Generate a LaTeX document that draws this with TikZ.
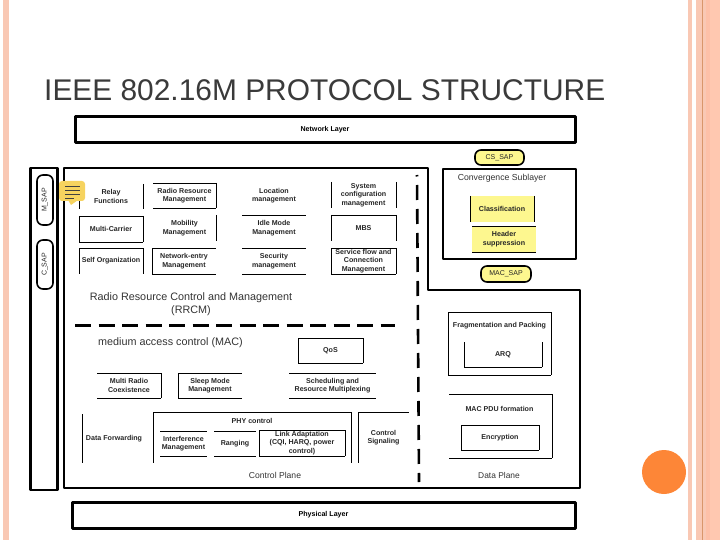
\documentclass[tikz,border=0pt]{standalone}
\usepackage{fontspec}
\setmainfont{Liberation Sans}
\definecolor{stripe}{HTML}{F9C8B4}
\definecolor{stripeb}{HTML}{FDC0A8}
\definecolor{stripec}{HTML}{FFC8B0}
\definecolor{stripel}{HTML}{D9966B}
\definecolor{dot}{HTML}{FD8637}
\definecolor{titlec}{HTML}{3A3A3A}
\definecolor{boxy}{HTML}{FDF78F}
\definecolor{note}{HTML}{F6D35F}
\tikzset{
  blk/.style={inner sep=0pt,outer sep=0pt,align=center,font=\fontsize{7.1}{8.4}\selectfont\bfseries,text=black!85},
  thinl/.style={line width=0.9pt,black},
  heavy/.style={line width=3pt,black,line join=round},
  mid/.style={line width=2.4pt,black,line join=round},
  sap/.style={rounded corners=6pt,line width=1.6pt,draw=black,inner sep=0pt,font=\fontsize{7}{8}\selectfont,text=black!85},
  plain/.style={inner sep=0pt,align=center,text=black!80},
  dashl/.style={line width=3pt,black,dash pattern=on 16pt off 7.5pt},
}
\newcommand\blkname{}
\newcommand\eT{\draw[thinl] (\blkname.north west)--(\blkname.north east);}
\newcommand\eB{\draw[thinl] (\blkname.south west)--(\blkname.south east);}
\newcommand\eL{\draw[thinl] (\blkname.north west)--(\blkname.south west);}
\newcommand\eR{\draw[thinl] (\blkname.north east)--(\blkname.south east);}
% name x1 y1 x2 y2 text edges
\newcommand\blk[7]{%
  \node[blk,minimum width={(#4-#2)*1pt},minimum height={(#5-#3)*1pt}] (#1) at ({(#2+#4)/2},{(#3+#5)/2}) {#6};
  \renewcommand\blkname{#1}#7}
\begin{document}
\begin{tikzpicture}[x=1pt,y=-1pt]
\useasboundingbox (0,0) rectangle (720,540);
% decoration
\fill[stripe] (3,0) rectangle (9,540);
\fill[stripe] (688,0) rectangle (692,540);
\fill[stripe] (696,0) rectangle (709,540);
\fill[stripeb] (706,0) rectangle (710,540);
\fill[stripec] (710,0) rectangle (720,540);
\fill[stripel] (702,0) rectangle (703,540);
\fill[dot] (664,472) circle (22);
% title
\node[anchor=west,inner sep=0pt,text=titlec,font=\fontsize{29.9}{36}\selectfont] (title) at (44,90) {IEEE 802.16M PROTOCOL STRUCTURE};
% layers
\node[draw,heavy,minimum width=500pt,minimum height=26pt,inner sep=0pt,font=\fontsize{7.1}{8}\selectfont\bfseries] (net) at (325,130) {\raisebox{-1pt}{Network Layer}};
\node[draw,heavy,minimum width=503pt,minimum height=26pt,inner sep=0pt,font=\fontsize{7.1}{8}\selectfont\bfseries] (phy) at (323.5,515) {Physical Layer};
% left strip
\node[draw,mid,minimum width=27pt,minimum height=322pt,inner sep=0pt] (strip) at (44,329) {};
\node[sap,minimum width=16pt,minimum height=50pt] (msap) at (45,200) {\rotatebox{90}{M\_SAP}};
\node[sap,minimum width=16pt,minimum height=49pt] (csap) at (45,264.5) {\rotatebox{90}{C\_SAP}};
% outer outline
\draw[mid] (64,168) -- (428,168) -- (428,290) -- (580,290) -- (580,488) -- (64,488) -- cycle;
% convergence
\node[draw,mid,minimum width=133pt,minimum height=90pt,inner sep=0pt] (conv) at (509.5,214) {};
\node[plain,font=\fontsize{8.7}{10}\selectfont] (convt) at (502,178.5) {Convergence Sublayer};
\fill[boxy] (470,196) rectangle (534,222);
\fill[boxy] (472,226) rectangle (536,252);
\blk{clsf}{470}{196}{534}{222}{Classification}{\eL\eR}
\blk{hdr}{472}{226}{536}{252}{Header\\suppression}{\eT\eB}
\node[sap,fill=boxy,minimum width=49pt,minimum height=15pt] (cssap) at (499.5,157.5) {CS\_SAP};
\node[sap,fill=boxy,minimum width=50pt,minimum height=16pt] (macsap) at (506,274) {MAC\_SAP};
% RRCM blocks
\blk{relay}{79}{184}{143}{209}{Relay\\Functions}{\eL\eR}
\blk{rrm}{153}{183}{216}{208}{Radio Resource\\Management}{\eT\eB\eR}
\blk{loc}{242}{183}{306}{208}{Location\\management}{}
\blk{sys}{331}{182}{396}{208}{System\\configuration\\management}{\eL\eR}
\blk{mc}{79}{216}{143}{242}{Multi-Carrier}{\eT\eB\eL\eR}
\blk{mob}{153}{215}{216}{241}{Mobility\\Management}{\eR}
\blk{idle}{242}{215}{306}{241}{Idle Mode\\Management}{\eT}
\blk{mbs}{331}{215}{396}{241}{MBS}{\eT\eL\eR}
\blk{self}{79}{248}{143}{274}{Self Organization}{\eT\eL\eR}
\blk{nete}{152}{248}{216}{274}{Network-entry\\Management}{\eT\eL\eB}
\blk{sec}{242}{248}{306}{274}{Security\\management}{\eT\eB}
\blk{serv}{331}{248}{396}{274}{Service flow and\\Connection\\Management}{\eT\eB\eL\eR}
\node[plain,font=\fontsize{10.8}{13}\selectfont] (rrcm) at (191,304.5) {Radio Resource Control and Management\\(RRCM)};
% dashes
\coordinate (dh1) at (75,325);
\coordinate (dh2) at (395,325);
\draw[dashl] (dh1) -- (dh2);
\coordinate (dv1) at (417,175);
\coordinate (dv2) at (419,482);
\draw[line width=2.6pt,black,dash pattern=on 1.5pt off 8.5pt on 15pt off 9pt on 15pt off 9pt on 15pt off 9pt on 15pt off 9pt on 15pt off 9pt on 15pt off 9pt on 15pt off 9pt on 15pt off 9pt on 15pt off 9pt on 15pt off 9pt on 15pt off 9pt on 15pt off 9pt on 15pt off 9pt] (dv1) -- (dv2);
% MAC
\node[plain,font=\fontsize{10.8}{12}\selectfont] (mac) at (170.5,343) {medium access control (MAC)};
\blk{qos}{298}{338}{363}{363}{QoS}{\eT\eB\eL\eR}
\blk{mrc}{97}{373}{161}{398}{Multi Radio\\Coexistence}{\eT\eB\eR}
\blk{slp}{178}{373}{242}{398}{Sleep Mode\\Management}{\eT\eB\eL}
\blk{sch}{289}{373}{376}{398}{Scheduling and\\Resource Multiplexing}{\eT\eB}
\blk{dfw}{82}{414}{146}{463}{Data Forwarding}{\eL}
\blk{phyc}{153}{412}{351}{463}{}{\eT\eL\eR}
\node[blk] (phyt) at (252,421) {PHY control};
\blk{intf}{160}{431}{207}{456}{Interference\\Management}{\eT\eB}
\blk{rng}{214}{431}{256}{456}{Ranging}{\eT\eB}
\blk{link}{259}{430}{345}{456}{Link Adaptation\\(CQI, HARQ, power\\control)}{\eT\eB\eL\eR}
\blk{ctl}{358}{412}{409}{463}{Control\\Signaling}{\eT\eL}
\node[plain,font=\fontsize{8.6}{10}\selectfont] (cp) at (275,475) {Control Plane};
\node[plain,font=\fontsize{8.4}{10}\selectfont] (dp) at (499,475) {Data Plane};
% Data plane
\blk{frag}{448}{312}{551}{375}{}{\eT\eB\eL\eR}
\node[blk] (fragt) at (499.5,326) {Fragmentation and Packing};
\blk{arq}{464}{342}{542}{367}{ARQ}{\eL\eB\eR}
\blk{pdu}{449}{394}{552}{458}{}{\eT\eB\eR}
\node[blk] (pdut) at (499.5,408.5) {MAC PDU formation};
\blk{enc}{461}{425}{539}{450}{Encryption}{\eT\eB\eL\eR}
% note icon
\fill[note,rounded corners=3pt] (59,181) rectangle (85,201);
\fill[note] (68,200) -- (78,200) -- (71,205) -- cycle;
\foreach \yy in {186,190,194}{\draw[line width=0.8pt,black!75] (65,\yy) -- (80,\yy);}
\draw[line width=0.8pt,black!75] (65,198) -- (74,198);
\end{tikzpicture}
\end{document}
